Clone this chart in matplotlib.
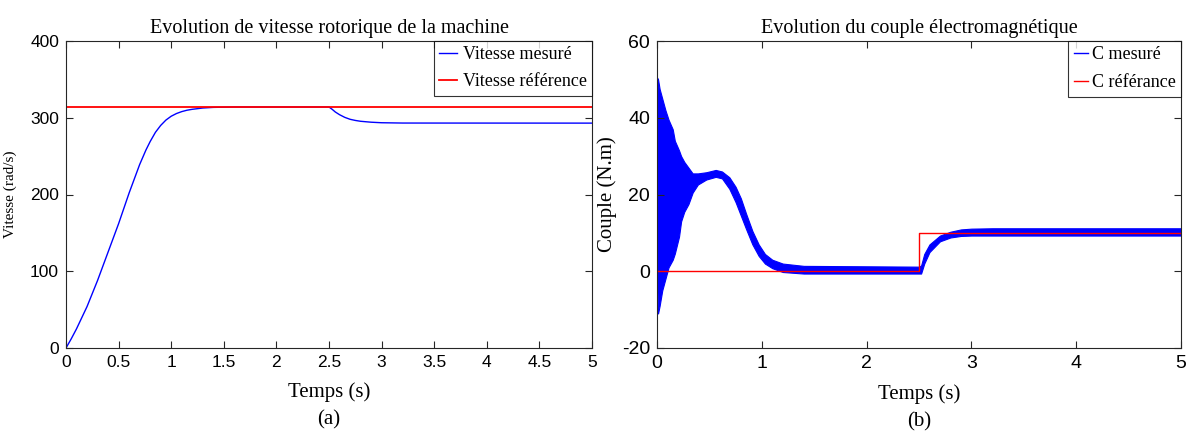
import matplotlib
matplotlib.use("Agg")
import matplotlib.pyplot as plt
from matplotlib.lines import Line2D

plt.rcParams["axes.unicode_minus"] = False

# ---- speed (left) ----
t_speed = [0, 0.05, 0.1, 0.2, 0.3, 0.4, 0.5, 0.6, 0.7, 0.76, 0.8, 0.85, 0.9,
           0.95, 1.0, 1.05, 1.1, 1.15, 1.2, 1.3, 1.4, 1.6, 2.5, 2.53, 2.56,
           2.6, 2.65, 2.7, 2.75, 2.8, 2.9, 3.0, 3.2, 5.0]
w_speed = [0, 12, 25, 54, 88, 125, 162, 202, 239, 258, 269, 281, 290,
           297, 302, 305.5, 308, 309.8, 311, 312.7, 313.5, 314, 314, 311, 307.5,
           304, 300.5, 298, 296.5, 295.4, 294.2, 293.5, 293.1, 293]
t_wref = [0, 5]
w_ref = [314, 314]

# ---- torque (right), envelope of the oscillating signal ----
t_env = [0, 0.01, 0.025, 0.05, 0.08, 0.11, 0.15, 0.17, 0.21, 0.23, 0.26, 0.30,
         0.34, 0.39, 0.47, 0.56, 0.62, 0.69, 0.75, 0.80, 0.85, 0.91, 0.97, 1.03,
         1.1, 1.2, 1.4, 2.5, 2.52, 2.55, 2.6, 2.7, 2.8, 2.9, 3.0, 3.2, 5.0]
c_up = [50.5, 50, 47.5, 45, 42, 39.5, 37, 34, 31.5, 30, 28.5, 27,
        25.5, 25.5, 25.8, 26.4, 26, 24.5, 22, 19, 15, 10.5, 7, 4.5,
        3, 2, 1.4, 1.2, 1.5, 4.5, 7.0, 9.3, 10.3, 10.9, 11.1, 11.2, 11.2]
c_lo = [0, -11, -9, -5, -2, 1, 3, 4.6, 9, 13, 15.5, 17.5,
        20.5, 22.6, 23.9, 24.6, 24.2, 21.5, 18, 14.5, 11, 7, 4, 2,
        0.8, -0.2, -0.6, -0.6, -0.6, 2, 5, 7.8, 8.8, 9.2, 9.3, 9.3, 9.3]
t_cref = [0, 2.5, 2.5, 5]
c_ref = [0, 0, 10, 10]

serif = ["Liberation Serif", "DejaVu Serif"]
sans = ["Liberation Sans", "DejaVu Sans"]

fig = plt.figure(figsize=(11.89, 4.46), dpi=100)
ax1 = fig.add_axes([66/1189, 98/446, 526/1189, 307/446])
ax2 = fig.add_axes([657/1189, 98/446, 524/1189, 307/446])

ax1.plot(t_speed, w_speed, color=(0, 0, 1), lw=1.0, label="Vitesse mesuré")
ax1.plot(t_wref, w_ref, color=(1, 0, 0), lw=1.3, label="Vitesse référence")
ax1.set_xlim(0, 5)
ax1.set_ylim(0, 400)
ax1.set_xticks([0, 0.5, 1, 1.5, 2, 2.5, 3, 3.5, 4, 4.5, 5])
ax1.set_xticklabels(["0", "0.5", "1", "1.5", "2", "2.5", "3", "3.5", "4", "4.5", "5"])
ax1.set_yticks([0, 100, 200, 300, 400])
ax1.set_title("Evolution de vitesse rotorique de la machine", family=serif,
              fontsize=14.5, pad=6)
ax1.set_xlabel("Temps (s)\n(a)", family=serif, fontsize=15, linespacing=1.55,
               labelpad=9)
ax1.set_ylabel("Vitesse (rad/s)", family=serif, fontsize=11)
ax1.yaxis.set_label_coords(-0.093, 0.5)

ax2.fill_between(t_env, c_lo, c_up, color=(0, 0, 1), lw=0.8, edgecolor=(0, 0, 1))
ax2.plot(t_cref, c_ref, color=(1, 0, 0), lw=1.0)
ax2.set_xlim(0, 5)
ax2.set_ylim(-20, 60)
ax2.set_xticks([0, 1, 2, 3, 4, 5])
ax2.set_yticks([-20, 0, 20, 40, 60])
ax2.set_title("Evolution du couple électromagnétique", family=serif,
              fontsize=14.5, pad=6)
ax2.set_xlabel("Temps (s)\n(b)", family=serif, fontsize=15, linespacing=1.55,
               labelpad=9)
ax2.set_ylabel("Couple (N.m)", family=serif, fontsize=15)
ax2.yaxis.set_label_coords(-0.076, 0.5)

for ax, fs in [(ax1, 12.5), (ax2, 14)]:
    ax.tick_params(direction="in", top=True, right=True, length=5, width=0.8,
                   colors="#262626", labelsize=fs, pad=5)
    for lab in ax.get_xticklabels() + ax.get_yticklabels():
        lab.set_family(sans)
        lab.set_color("black")
    for s in ax.spines.values():
        s.set_color("#262626")
        s.set_linewidth(0.8)

leg1 = ax1.legend(loc="upper right", prop={"family": serif, "size": 13},
                  fancybox=False, edgecolor="black", handlelength=1.0,
                  handletextpad=0.3, borderpad=0.3, borderaxespad=0.0,
                  labelspacing=0.55)
leg1.get_frame().set_linewidth(0.8)

h2 = [Line2D([], [], color=(0, 0, 1), lw=1.0), Line2D([], [], color=(1, 0, 0), lw=1.0)]
leg2 = ax2.legend(h2, ["C mesuré", "C référance"], loc="upper right",
                  prop={"family": serif, "size": 13},
                  fancybox=False, edgecolor="black", handlelength=0.8,
                  handletextpad=0.2, borderpad=0.3, borderaxespad=0.0,
                  labelspacing=0.6)
leg2.get_frame().set_linewidth(0.8)

fig.savefig("out.png", dpi=100)
